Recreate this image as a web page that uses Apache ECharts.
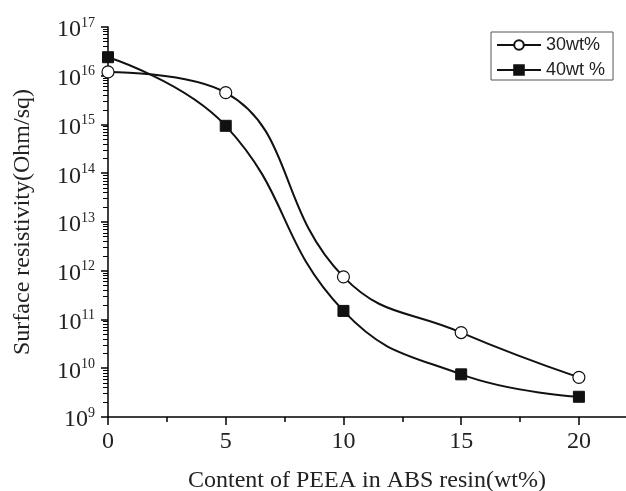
<!DOCTYPE html>
<html>
<head>
<meta charset="utf-8">
<script src="https://cdn.jsdelivr.net/npm/echarts@6/dist/echarts.min.js"></script>
<style>html,body{margin:0;padding:0;background:#fff}#c{width:626px;height:491px}</style>
</head>
<body>
<div id="c"></div>
<script>
const xValues = [0, 5, 10, 15, 20];
const s30 = [1.2e16, 4.5e15, 7.5e11, 5.4e10, 6.5e9];
const s40 = [2.4e16, 9.4e14, 1.5e11, 7.5e9, 2.6e9];
const seriesNames = ['30wt%', '40wt %'];
const xTicks = [0, 5, 10, 15, 20];
const xMinorTicks = [2.5, 7.5, 12.5, 17.5];
const yExpMin = 9, yExpMax = 17;
const yMinorTicks = [];
for (let d = yExpMin; d < yExpMax; d++) for (let k = 2; k <= 9; k++) yMinorTicks.push(d + Math.log10(k));

const serif = 'Liberation Serif';
const chart = echarts.init(document.getElementById('c'));
chart.setOption({
  animation: false,
  grid: {left: 108, right: 0, top: 27, bottom: 74, containLabel: false, outerBoundsMode: 'none'},
  legend: {
    orient: 'vertical', left: 491, top: 32,
    borderColor: '#555', borderWidth: 1, padding: [4, 8, 1, 5], itemGap: 7,
    itemWidth: 44, itemHeight: 12,
    textStyle: {fontFamily: 'Liberation Sans', fontSize: 18, color: '#222'},
    data: seriesNames
  },
  xAxis: [{
    type: 'value', min: 0, max: 22,
    name: 'Content of PEEA in ABS resin(wt%)', nameLocation: 'middle', nameGap: 52,
    nameTextStyle: {fontFamily: serif, fontSize: 24, color: '#222'},
    axisLine: {lineStyle: {color: '#000', width: 1.5}},
    axisTick: {customValues: xTicks, length: 8, inside: false, lineStyle: {color: '#000', width: 1.5}},
    axisLabel: {customValues: xTicks, fontFamily: serif, fontSize: 24, color: '#222', margin: 13},
    splitLine: {show: false}
  }, {
    type: 'value', min: 0, max: 22, position: 'bottom',
    axisLine: {show: false},
    axisTick: {customValues: xMinorTicks, length: 5, lineStyle: {color: '#000', width: 1.5}},
    axisLabel: {show: false}, splitLine: {show: false}
  }],
  yAxis: [{
    type: 'log', logBase: 10, min: 1e9, max: 1e17, interval: 1,
    name: 'Surface resistivity(Ohm/sq)', nameLocation: 'middle', nameGap: 73,
    nameTextStyle: {fontFamily: serif, fontSize: 24, color: '#222'},
    axisLine: {show: true, lineStyle: {color: '#000', width: 1.5}},
    axisTick: {show: true, length: 7, lineStyle: {color: '#000', width: 1.5}},
    axisLabel: {
      margin: 13, fontFamily: serif, color: '#222',
      formatter: v => '{b|10}{s|' + Math.round(Math.log10(v)) + '}',
      rich: {
        b: {fontFamily: serif, fontSize: 24, color: '#222', padding: [6, 0, 0, 0]},
        s: {fontFamily: serif, fontSize: 14, color: '#222', padding: [0, 0, 8, 0]}
      }
    },
    splitLine: {show: false}
  }, {
    type: 'value', min: yExpMin, max: yExpMax, position: 'left',
    axisLine: {show: false},
    axisTick: {show: true, customValues: yMinorTicks, length: 5, lineStyle: {color: '#000', width: 1}},
    axisLabel: {show: false}, splitLine: {show: false}
  }],
  series: [{
    name: seriesNames[0], type: 'line', smooth: 0.45,
    data: xValues.map((x, i) => [x, s30[i]]),
    symbol: 'circle', symbolSize: 12,
    lineStyle: {color: '#111', width: 2},
    itemStyle: {color: '#fff', borderColor: '#111', borderWidth: 1.2}
  }, {
    name: seriesNames[1], type: 'line', smooth: 0.45,
    data: xValues.map((x, i) => [x, s40[i]]),
    symbol: 'rect', symbolSize: 11,
    lineStyle: {color: '#111', width: 2},
    itemStyle: {color: '#111', borderColor: '#111', borderWidth: 1}
  }]
});
</script>
</body>
</html>
